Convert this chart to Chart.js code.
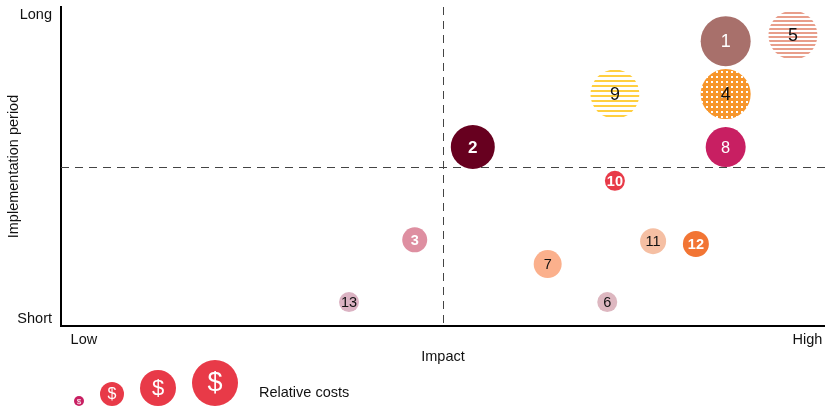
<!DOCTYPE html>
<html>
<head>
<meta charset="utf-8">
<script src="https://cdn.jsdelivr.net/npm/chart.js@4.4.0/dist/chart.umd.min.js"></script>
<style>
  html, body { margin: 0; padding: 0; background: #fff; }
  #wrap { width: 825px; height: 409px; position: relative; }
</style>
</head>
<body>
<div id="wrap"><canvas id="matrix"></canvas></div>
<script>
// --- DATA ---
const ids = ['1', '2', '3', '4', '5', '6', '7', '8', '9', '10', '11', '12', '13'];
const impact = [87, 53.9, 46.3, 87, 95.8, 71.5, 63.7, 87, 72.5, 72.5, 77.5, 83.1, 37.7];
const period = [89.3, 56.1, 27, 72.7, 91.2, 7.5, 19.4, 56.1, 72.7, 45.5, 26.6, 25.7, 7.5];
const costR = [25, 22, 12.5, 25, 24.5, 10, 14, 20, 24.5, 10, 13, 13, 10];

const xTickLabels = ['Low', 'High'];
const xTickValues = [3, 97.7];
const yTickLabels = ['Short', 'Long'];
const yTickValues = [2.2, 97.5];
const midImpact = 50;
const midPeriod = 50;

const legendLevels = ['$', '$', '$', '$'];
const legendRadii = [5, 12, 18, 23];
const legendTitle = 'Relative costs';

// --- STYLES ---
const FONT = "'Liberation Sans', Arial, sans-serif";
const TEXT_SIZE = 14.5;

function stripes(color, period, thick) {
    const c = document.createElement('canvas');
    c.width = 8; c.height = period;
    const g = c.getContext('2d');
    g.fillStyle = '#fff';
    g.fillRect(0, 0, 8, period);
    g.fillStyle = color;
    g.fillRect(0, 0, 8, thick);
    return g.createPattern(c, 'repeat');
}

function dots(color, period, size) {
    const c = document.createElement('canvas');
    c.width = period; c.height = period;
    const g = c.getContext('2d');
    g.fillStyle = color;
    g.fillRect(0, 0, period, period);
    g.fillStyle = '#fff';
    g.fillRect(1, 1, size, size);
    return g.createPattern(c, 'repeat');
}

const fills = [
    '#a8706b',
    '#67001f',
    '#de8fa1',
    dots('#f7962b', 5, 2),
    stripes('#e89e8b', 4, 2),
    '#ddb7c0',
    '#fbb08c',
    '#c81f62',
    stripes('#ffcf40', 5, 2),
    '#e83a48',
    '#f5bfa3',
    '#f27534',
    '#dbb3c3'
];
const labelColors = ['#fff', '#fff', '#fff', '#111', '#111', '#111', '#111', '#fff', '#111', '#fff', '#111', '#fff', '#111'];
const labelBold = [false, true, true, false, false, false, false, false, false, true, false, true, false];

// --- PLUGINS ---
const quadrantLines = {
    id: 'quadrantLines',
    beforeDatasetsDraw(chart) {
        const { ctx, chartArea, scales } = chart;
        const px = Math.round(scales.x.getPixelForValue(midImpact)) + 0.5;
        const py = Math.round(scales.y.getPixelForValue(midPeriod)) + 0.5;
        ctx.save();
        ctx.strokeStyle = '#444';
        ctx.lineWidth = 1;
        ctx.setLineDash([8, 6]);
        ctx.beginPath();
        ctx.moveTo(px, chartArea.top);
        ctx.lineTo(px, chartArea.bottom);
        ctx.moveTo(chartArea.left, py);
        ctx.lineTo(chartArea.right, py);
        ctx.stroke();
        ctx.restore();
    }
};

const bubbleLabels = {
    id: 'bubbleLabels',
    afterDatasetsDraw(chart) {
        const { ctx } = chart;
        const meta = chart.getDatasetMeta(0);
        ctx.save();
        ctx.textAlign = 'center';
        ctx.textBaseline = 'middle';
        meta.data.forEach((el, i) => {
            const size = Math.max(14.5, Math.min(18, 10 + costR[i] * 0.32));
            ctx.font = (labelBold[i] ? 'bold ' : '') + size + 'px ' + FONT;
            ctx.fillStyle = labelColors[i];
            ctx.fillText(ids[i], el.x, el.y + 1);
        });
        ctx.restore();
    }
};

const costLegend = {
    id: 'costLegend',
    afterDraw(chart) {
        const { ctx, chartArea } = chart;
        const baseY = chart.height - 3;
        let x = chartArea.left + 13;
        ctx.save();
        ctx.textAlign = 'center';
        ctx.textBaseline = 'middle';
        legendRadii.forEach((r, i) => {
            const cx = x + r;
            const cy = baseY - r;
            ctx.fillStyle = i === 0 ? '#c81f62' : '#e83a48';
            ctx.beginPath();
            ctx.arc(cx, cy, r, 0, Math.PI * 2);
            ctx.fill();
            ctx.fillStyle = '#fff';
            ctx.font = Math.round(r * 1.05 + 3) + 'px ' + FONT;
            ctx.fillText(legendLevels[i], cx, cy + 1);
            x = cx + r + 16;
        });
        ctx.textAlign = 'left';
        ctx.fillStyle = '#111';
        ctx.font = TEXT_SIZE + 'px ' + FONT;
        ctx.fillText(legendTitle, x + 5, baseY - 13);
        ctx.restore();
    }
};

// --- CHART ---
const points = ids.map((id, i) => ({ x: impact[i], y: period[i], r: costR[i] }));

new Chart(document.getElementById('matrix'), {
    type: 'bubble',
    data: {
        datasets: [{
            data: points,
            backgroundColor: fills,
            borderWidth: 0,
            hoverRadius: 0,
            hoverBorderWidth: 0,
            clip: false
        }]
    },
    options: {
        responsive: true,
        maintainAspectRatio: false,
        animation: false,
        events: [],
        layout: { autoPadding: false, padding: { top: 7, right: 0, bottom: 43, left: 0 } },
        plugins: { legend: { display: false }, tooltip: { enabled: false } },
        scales: {
            x: {
                min: 0,
                max: 100,
                afterBuildTicks: (s) => { s.ticks = xTickValues.map(v => ({ value: v })); },
                afterFit: (s) => {
                    s.height = 40;
                    s.paddingLeft = 0;
                    s.paddingRight = 0;
                },
                grid: { display: false, drawTicks: false },
                border: { display: true, color: '#000', width: 2 },
                ticks: {
                    maxRotation: 0,
                    padding: 5,
                    color: '#111',
                    font: { family: FONT, size: TEXT_SIZE },
                    callback: (v) => xTickLabels[xTickValues.indexOf(v)]
                },
                title: {
                    display: true,
                    text: 'Impact',
                    color: '#111',
                    font: { family: FONT, size: TEXT_SIZE },
                    padding: { top: 0, bottom: 0 }
                }
            },
            y: {
                min: 0,
                max: 100,
                afterBuildTicks: (s) => { s.ticks = yTickValues.map(v => ({ value: v })); },
                afterFit: (s) => {
                    s.width = 61;
                    s.paddingTop = 0;
                    s.paddingBottom = 0;
                },
                grid: { display: false, drawTicks: false },
                border: { display: true, color: '#000', width: 2 },
                ticks: {
                    padding: 9,
                    color: '#111',
                    font: { family: FONT, size: TEXT_SIZE },
                    callback: (v) => yTickLabels[yTickValues.indexOf(v)]
                },
                title: {
                    display: true,
                    text: 'Implementation period',
                    color: '#111',
                    font: { family: FONT, size: TEXT_SIZE },
                    padding: { top: 5, bottom: 0 }
                }
            }
        }
    },
    plugins: [quadrantLines, bubbleLabels, costLegend]
});
</script>
</body>
</html>
